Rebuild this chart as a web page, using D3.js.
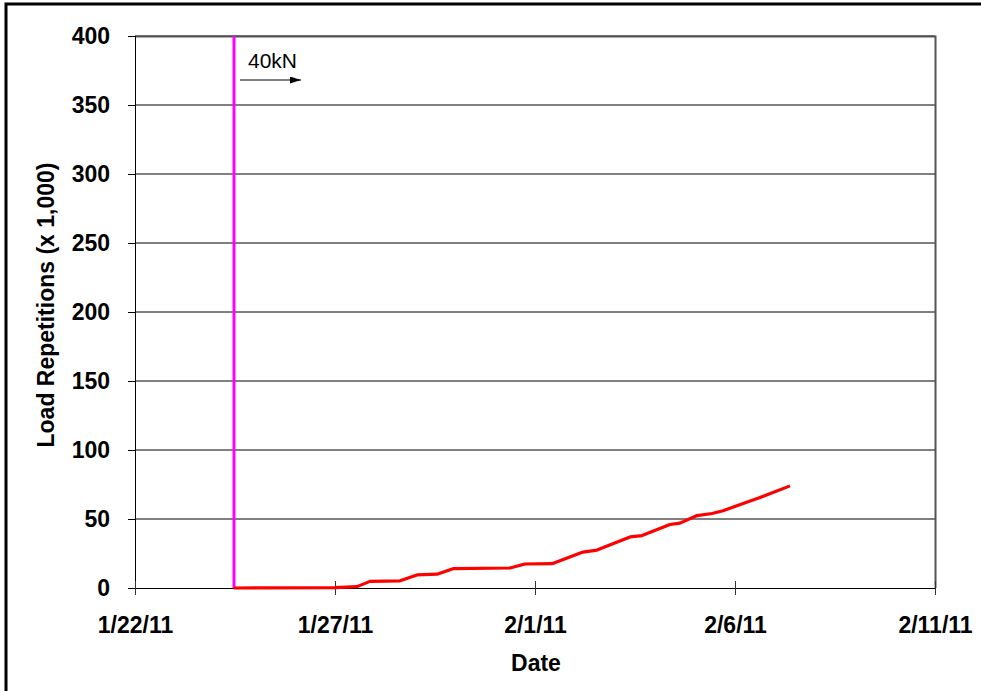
<!DOCTYPE html>
<html><head><meta charset="utf-8">
<script src="https://cdn.jsdelivr.net/npm/d3@7"></script>
<style>body{margin:0;background:#fff;}svg{display:block;font-family:Arial,"Liberation Sans",sans-serif;}</style>
</head><body>
<svg id="c" width="981" height="691"></svg>
<script>
const dates = ["2011-01-24T11:24","2011-01-27T00:00","2011-01-27T13:12","2011-01-27T21:00","2011-01-28T15:00","2011-01-29T01:12","2011-01-29T13:12","2011-01-29T22:48","2011-01-31T09:00","2011-01-31T18:00","2011-02-01T10:12","2011-02-02T04:48","2011-02-02T13:12","2011-02-03T09:00","2011-02-03T16:12","2011-02-04T09:00","2011-02-04T15:00","2011-02-05T01:12","2011-02-05T10:12","2011-02-05T16:48","2011-02-06T07:48","2011-02-06T13:48","2011-02-07T09:00"];
const reps = [0,0.3,1,4.8,5.2,9.5,10,14,14.5,17.4,17.6,26,27.5,37,38,46,47,52.5,54,56,62.5,65,74];
const xTicks = ["2011-01-22","2011-01-27","2011-02-01","2011-02-06","2011-02-11"];
const yTicks = [0,50,100,150,200,250,300,350,400];
const loadChange = {date:"2011-01-24T11:24", label:"40kN"};

const parse = d3.utcParse("%Y-%m-%dT%H:%M");
const parseD = d3.utcParse("%Y-%m-%d");
const fmt = d3.utcFormat("%-m/%-d/%y");
const data = dates.map((d,i)=>({t:parse(d), v:reps[i]}));

const svg = d3.select("#c");
const L=135,R=935,T=36,B=588;
const FS=23;
const x = d3.scaleUtc().domain([parseD(xTicks[0]), parseD(xTicks[xTicks.length-1])]).range([L,R]);
const y = d3.scaleLinear().domain([0,400]).range([B,T]);

// outer frame
svg.append("path").attr("d",`M6,700 L6,4 L990,4`).attr("fill","none").attr("stroke","#000").attr("stroke-width",3);

// gridlines
svg.append("g").selectAll("line").data(yTicks.filter(d=>d>0)).join("line")
 .attr("x1",L).attr("x2",R).attr("y1",d=>y(d)).attr("y2",d=>y(d)).attr("stroke","#000").attr("stroke-width",1);
// plot border top/right
svg.append("path").attr("d",`M${L},${T+0.5} L${R+0.5},${T+0.5} L${R+0.5},${B}`).attr("fill","none").attr("stroke","#555").attr("stroke-width",2);

// y axis
const ya = d3.axisLeft(y).tickValues(yTicks).tickSize(7).tickPadding(18);
const gy = svg.append("g").attr("transform",`translate(${L},0)`).call(ya);
gy.attr("font-size",FS).attr("font-family","Arial,'Liberation Sans',sans-serif");
gy.select(".domain").attr("stroke","#000");
gy.selectAll("text").attr("font-size",FS).attr("font-weight","bold").attr("fill","#000");

// x axis
const xa = d3.axisBottom(x).tickValues(xTicks.map(parseD)).tickFormat(fmt).tickSize(7).tickPadding(22);
const gx = svg.append("g").attr("transform",`translate(0,${B})`).call(xa);
gx.attr("font-size",FS).attr("font-family","Arial,'Liberation Sans',sans-serif");
gx.select(".domain").attr("stroke","#000");
gx.selectAll(".tick line").attr("y1",-7).attr("y2",7).attr("stroke","#333");
gx.selectAll("text").attr("font-size",FS).attr("font-weight","bold").attr("fill","#000");

// axis titles
svg.append("text").attr("x",536).attr("y",671).attr("text-anchor","middle").attr("font-size",FS).attr("font-weight","bold").text("Date");
svg.append("text").attr("transform",`translate(54,305) rotate(-90)`).attr("text-anchor","middle").attr("font-size",FS).attr("font-weight","bold").text("Load Repetitions (x 1,000)");

// magenta vertical line
const lx = x(parse(loadChange.date));
svg.append("line").attr("x1",lx).attr("x2",lx).attr("y1",y(400)).attr("y2",y(0)).attr("stroke","#ff00ff").attr("stroke-width",3);

// data line
svg.append("path").datum(data).attr("fill","none").attr("stroke","#ff0000").attr("stroke-width",3.2).attr("stroke-linejoin","round")
 .attr("d",d3.line().x(d=>x(d.t)).y(d=>y(d.v)));

// annotation
svg.append("text").attr("x",lx+14).attr("y",68).attr("font-size",21).text(loadChange.label);
svg.append("defs").append("marker").attr("id","ah").attr("viewBox","0 0 10 10").attr("refX",10).attr("refY",5)
 .attr("preserveAspectRatio","none")
 .attr("markerWidth",11).attr("markerHeight",7).attr("markerUnits","userSpaceOnUse").attr("orient","auto")
 .append("path").attr("d","M0,0 L10,5 L0,10 Z").attr("fill","#000");
svg.append("line").attr("x1",lx+6).attr("x2",lx+67).attr("y1",80).attr("y2",80).attr("stroke","#000").attr("stroke-width",1.2).attr("marker-end","url(#ah)");
</script>
</body></html>
